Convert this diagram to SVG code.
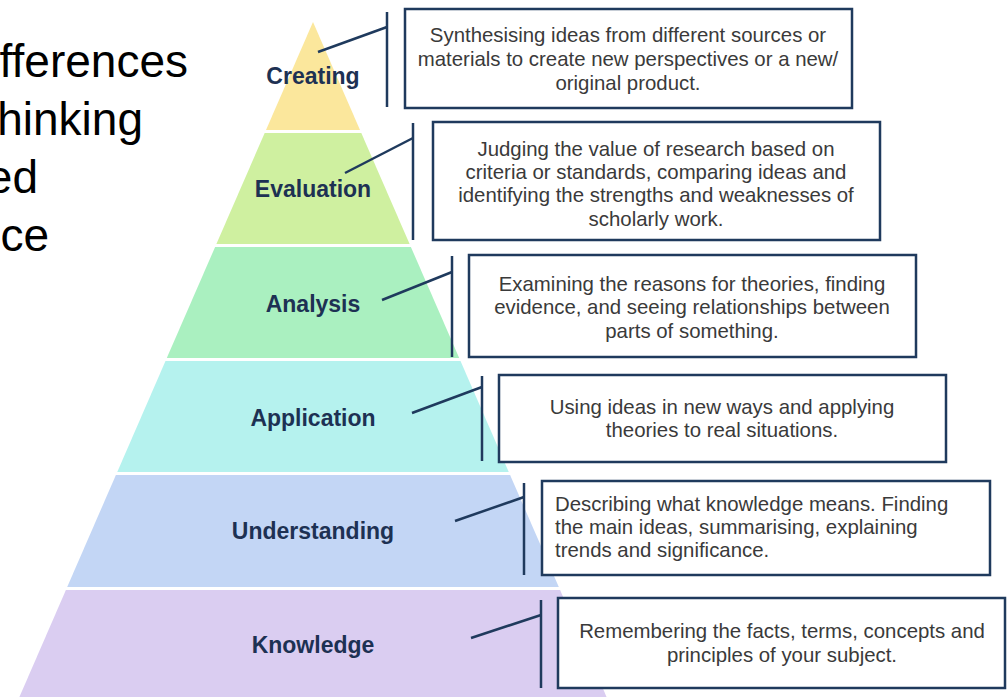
<svg xmlns="http://www.w3.org/2000/svg" width="1007" height="697" viewBox="0 0 1007 697">
<style>
.lbl{font-family:"Liberation Sans",Arial,sans-serif;font-weight:bold;font-size:23px;fill:#1d3153;text-anchor:middle}
.box{fill:#fff;stroke:#1f3a5d;stroke-width:2.5}
.bt{font-family:"Liberation Sans",Arial,sans-serif;font-size:20.4px;fill:#3a3a3a;text-anchor:middle}
.btl{font-family:"Liberation Sans",Arial,sans-serif;font-size:20.4px;fill:#3a3a3a}
.con{stroke:#1f3a5d;stroke-width:2.5;fill:none;stroke-linecap:butt}
.title{font-family:"Liberation Sans",Arial,sans-serif;font-size:46px;fill:#000;text-anchor:end}
</style>
<rect width="1007" height="697" fill="#fff"/>
<g id="title">
<text class="title" x="188" y="77">fferences</text>
<text class="title" x="143" y="135">hinking</text>
<text class="title" x="38" y="193">ed</text>
<text class="title" x="49" y="251">ce</text>
</g>
<g id="creating">
<polygon points="313,22 360,130 266,130" fill="#fbe79c"/>
<text class="lbl" x="313" y="84">Creating</text>
<rect class="box" x="405" y="9" width="447" height="99"/>
<text class="bt" x="628" y="42">Synthesising ideas from different sources or</text>
<text class="bt" x="628" y="66">materials to create new perspectives or a new/</text>
<text class="bt" x="628" y="90">original product.</text>
</g>
<g id="evaluation">
<polygon points="264.7,133 361.3,133 409.6,244 216.4,244" fill="#cff0a0"/>
<text class="lbl" x="313" y="197">Evaluation</text>
<rect class="box" x="433" y="122" width="447" height="118"/>
<text class="bt" x="656" y="156">Judging the value of research based on</text>
<text class="bt" x="656" y="179">criteria or standards, comparing ideas and</text>
<text class="bt" x="656" y="202">identifying the strengths and weaknesses of</text>
<text class="bt" x="656" y="226">scholarly work.</text>
</g>
<g id="analysis">
<polygon points="215.1,247 410.9,247 459.2,358 166.8,358" fill="#aaf0c0"/>
<text class="lbl" x="313" y="312">Analysis</text>
<rect class="box" x="469" y="255" width="447" height="102"/>
<text class="bt" x="692" y="291">Examining the reasons for theories, finding</text>
<text class="bt" x="692" y="314">evidence, and seeing relationships between</text>
<text class="bt" x="692" y="338">parts of something.</text>
</g>
<g id="application">
<polygon points="165.5,361 460.5,361 508.75,472 117.25,472" fill="#b5f2ee"/>
<text class="lbl" x="313" y="426">Application</text>
<rect class="box" x="499" y="375" width="447" height="87"/>
<text class="bt" x="722" y="414">Using ideas in new ways and applying</text>
<text class="bt" x="722" y="437">theories to real situations.</text>
</g>
<g id="understanding">
<polygon points="115.9,475 510.1,475 558.8,587 67.2,587" fill="#c3d6f5"/>
<text class="lbl" x="313" y="539">Understanding</text>
<rect class="box" x="542" y="481" width="448" height="94"/>
<text class="btl" x="555" y="511">Describing what knowledge means. Finding</text>
<text class="btl" x="555" y="534">the main ideas, summarising, explaining</text>
<text class="btl" x="555" y="557">trends and significance.</text>
</g>
<g id="knowledge">
<polygon points="65.9,590 560.1,590 607.9,700 18.1,700" fill="#dacdf1"/>
<text class="lbl" x="313" y="653">Knowledge</text>
<rect class="box" x="558" y="598" width="447" height="90"/>
<text class="bt" x="782" y="638">Remembering the facts, terms, concepts and</text>
<text class="bt" x="782" y="662">principles of your subject.</text>
</g>
<g id="connectors">
<line class="con" x1="318" y1="52" x2="387" y2="27"/>
<line class="con" x1="387" y1="12" x2="387" y2="107"/>
<line class="con" x1="345" y1="173" x2="413" y2="138"/>
<line class="con" x1="413" y1="123" x2="413" y2="240"/>
<line class="con" x1="382" y1="300" x2="452" y2="272"/>
<line class="con" x1="452" y1="256" x2="452" y2="357"/>
<line class="con" x1="412" y1="413" x2="482" y2="387"/>
<line class="con" x1="482" y1="376" x2="482" y2="461"/>
<line class="con" x1="455" y1="521" x2="524" y2="497"/>
<line class="con" x1="524" y1="483" x2="524" y2="575"/>
<line class="con" x1="471" y1="638" x2="541" y2="615"/>
<line class="con" x1="541" y1="600" x2="541" y2="688"/>
</g>
</svg>
